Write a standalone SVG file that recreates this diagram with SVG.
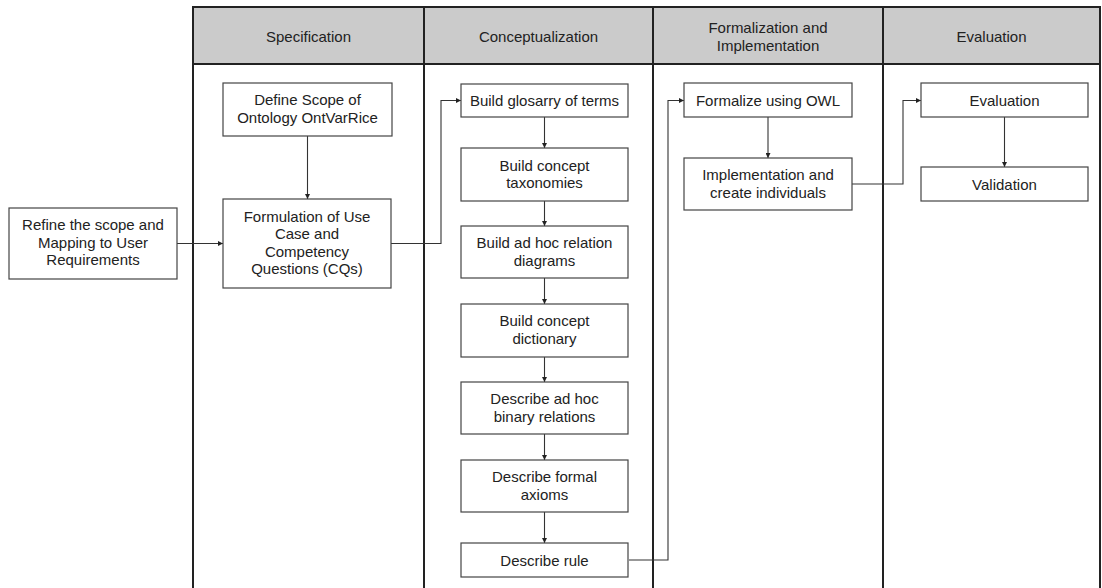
<svg xmlns="http://www.w3.org/2000/svg" width="1102" height="588" viewBox="0 0 1102 588">
  <defs>
    <marker id="arrow" markerWidth="6" markerHeight="5" refX="5" refY="2.5" orient="auto" markerUnits="userSpaceOnUse">
      <path d="M0,0 L5,2.5 L0,5 z" fill="#222"/>
    </marker>
    <style>
      text { font-family: "Liberation Sans", Arial, sans-serif; font-size: 15px; fill: #222; text-anchor: middle; }
      .lane { fill: #fff; stroke: #222; stroke-width: 2; }
      .head { fill: #cbcbcb; stroke: #222; stroke-width: 2; }
      .box { fill: #fff; stroke: #444; stroke-width: 1.2; }
      .conn { fill: none; stroke: #333; stroke-width: 1.1; marker-end: url(#arrow); }
    </style>
  </defs>
  <rect width="1102" height="588" fill="#fff"/>

  <!-- swimlane table -->
  <g id="lanes">
    <rect class="head" x="193" y="7" width="907" height="57"/>
    <line x1="193" y1="7" x2="193" y2="590" stroke="#222" stroke-width="2"/>
    <line x1="424" y1="7" x2="424" y2="590" stroke="#222" stroke-width="2"/>
    <line x1="653" y1="7" x2="653" y2="590" stroke="#222" stroke-width="2"/>
    <line x1="883" y1="7" x2="883" y2="590" stroke="#222" stroke-width="2"/>
    <line x1="1100" y1="7" x2="1100" y2="590" stroke="#222" stroke-width="2"/>
    <text x="308.5" y="41.5">Specification</text>
    <text x="538.5" y="41.5">Conceptualization</text>
    <text x="768" y="33">Formalization and</text>
    <text x="768" y="51">Implementation</text>
    <text x="991.5" y="41.5">Evaluation</text>
  </g>

  <!-- connectors -->
  <g id="connectors">
    <path class="conn" d="M177,243.5 H223"/>
    <path class="conn" d="M307.5,136 V199"/>
    <path class="conn" d="M391,243.5 H441 V100.5 H461"/>
    <path class="conn" d="M544.5,117 V148"/>
    <path class="conn" d="M544.5,201 V226"/>
    <path class="conn" d="M544.5,278 V304"/>
    <path class="conn" d="M544.5,357 V382"/>
    <path class="conn" d="M544.5,434 V460"/>
    <path class="conn" d="M544.5,512 V543"/>
    <path class="conn" d="M629,560 H668 V100.5 H684"/>
    <path class="conn" d="M768,117 V158"/>
    <path class="conn" d="M852,184 H903 V100.5 H921"/>
    <path class="conn" d="M1004.5,117 V167"/>
  </g>

  <g id="refine">
    <rect class="box" x="9" y="208" width="168" height="71"/>
    <text x="93" y="230">Refine the scope and</text>
    <text x="93" y="247.5">Mapping to User</text>
    <text x="93" y="265">Requirements</text>
  </g>

  <g id="define-scope">
    <rect class="box" x="223" y="83" width="169" height="53"/>
    <text x="307.5" y="105">Define Scope of</text>
    <text x="307.5" y="122.5">Ontology OntVarRice</text>
  </g>

  <g id="formulation">
    <rect class="box" x="223" y="199" width="168" height="89"/>
    <text x="307" y="221.5">Formulation of Use</text>
    <text x="307" y="239">Case and</text>
    <text x="307" y="256.5">Competency</text>
    <text x="307" y="274">Questions (CQs)</text>
  </g>

  <g id="glossary">
    <rect class="box" x="461" y="84" width="167" height="33"/>
    <text x="544.5" y="106">Build glosarry of terms</text>
  </g>

  <g id="taxonomies">
    <rect class="box" x="461" y="148" width="167" height="53"/>
    <text x="544.5" y="170.5">Build concept</text>
    <text x="544.5" y="188">taxonomies</text>
  </g>

  <g id="relation-diagrams">
    <rect class="box" x="461" y="226" width="167" height="52"/>
    <text x="544.5" y="248">Build ad hoc relation</text>
    <text x="544.5" y="265.5">diagrams</text>
  </g>

  <g id="dictionary">
    <rect class="box" x="461" y="304" width="167" height="53"/>
    <text x="544.5" y="326">Build concept</text>
    <text x="544.5" y="343.5">dictionary</text>
  </g>

  <g id="binary-relations">
    <rect class="box" x="461" y="382" width="167" height="52"/>
    <text x="544.5" y="404">Describe ad hoc</text>
    <text x="544.5" y="421.5">binary relations</text>
  </g>

  <g id="formal-axioms">
    <rect class="box" x="461" y="460" width="167" height="52"/>
    <text x="544.5" y="482">Describe formal</text>
    <text x="544.5" y="499.5">axioms</text>
  </g>

  <g id="describe-rule">
    <rect class="box" x="461" y="543" width="167" height="34"/>
    <text x="544.5" y="565.5">Describe rule</text>
  </g>

  <g id="formalize-owl">
    <rect class="box" x="684" y="83" width="168" height="34"/>
    <text x="768" y="105.5">Formalize using OWL</text>
  </g>

  <g id="implementation">
    <rect class="box" x="684" y="158" width="168" height="52"/>
    <text x="768" y="180">Implementation and</text>
    <text x="768" y="197.5">create individuals</text>
  </g>

  <g id="evaluation">
    <rect class="box" x="921" y="83" width="167" height="34"/>
    <text x="1004.5" y="105.5">Evaluation</text>
  </g>

  <g id="validation">
    <rect class="box" x="921" y="167" width="167" height="34"/>
    <text x="1004.5" y="189.5">Validation</text>
  </g>
</svg>
